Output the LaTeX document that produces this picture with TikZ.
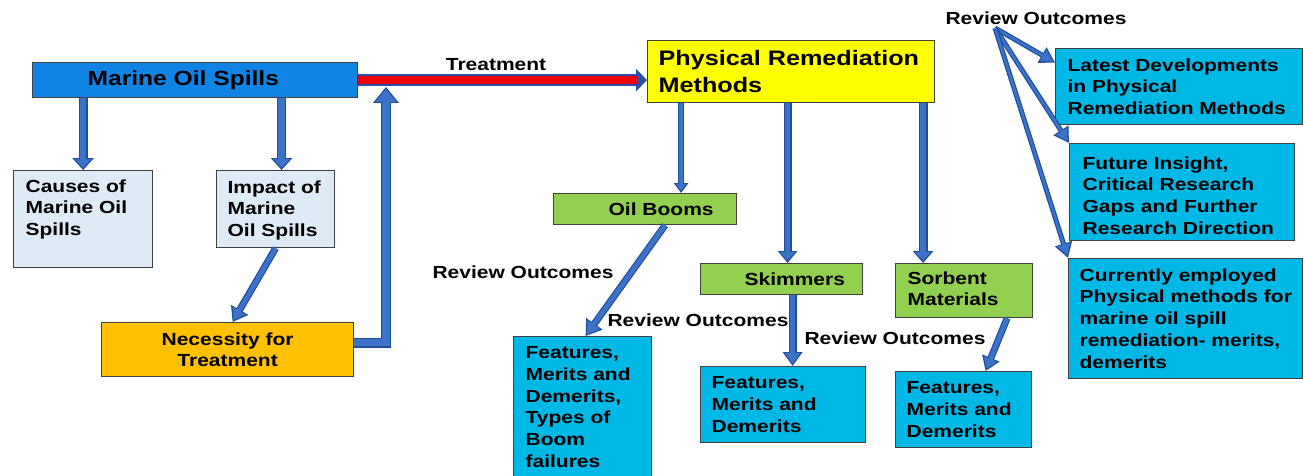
\documentclass[tikz,border=0pt]{standalone}
\usepackage{fontspec}
\setmainfont[FakeStretch=1.2]{Liberation Sans}
\usetikzlibrary{arrows.meta}
\definecolor{mblue}{RGB}{16,132,228}
\definecolor{lblue}{RGB}{222,235,247}
\definecolor{orng}{RGB}{255,192,0}
\definecolor{yel}{RGB}{255,255,0}
\definecolor{grn}{RGB}{146,208,80}
\definecolor{cyn}{RGB}{0,184,230}
\definecolor{dkb}{RGB}{31,78,154}
\definecolor{ltb}{RGB}{60,115,200}
\definecolor{bord}{RGB}{64,64,64}
\definecolor{tred}{RGB}{235,0,0}
\definecolor{tbl}{RGB}{40,80,170}
\newcommand\bxt[5]{\parbox[c][#2pt][t]{#1pt}{\vspace*{#4pt}\raggedright\leftskip=#3pt\relax #5\par}}
\newcommand\bxl[4]{\parbox[c][#2pt][c]{#1pt}{\raggedright\leftskip=#3pt\relax #4\par}}
\newcommand\bxm[3]{\parbox[c][#2pt][c]{#1pt}{\centering #3\par}}
\newcommand\barr[4]{%
  \pgfmathsetlengthmacro\bw{#1-2.4pt}%
  \pgfmathsetlengthmacro\bW{#2-4.6pt}%
  \pgfmathsetlengthmacro\bL{#3-3.4pt}%
  \draw[dkb, line width=#1, -{Triangle[width=#2,length=#3]}] #4;
  \draw[ltb, line width=\bw, shorten >=2.3pt, -{Triangle[width=\bW,length=\bL]}] #4;}
\tikzset{
  bx/.style={draw=bord, line width=1.2pt, inner sep=0pt, anchor=north west, font=\bfseries\fontsize{17.5}{21.7}\selectfont},
  lbl/.style={font=\bfseries\fontsize{17.5}{21}\selectfont, inner sep=0pt},
}
\begin{document}
\begin{tikzpicture}[x=1pt,y=-1pt]
\useasboundingbox[fill=white] (0,0) rectangle (1303,476);
% boxes
\node[bx, fill=mblue, font=\bfseries\fontsize{20.5}{24}\selectfont] (mar) at (32,62) {\bxl{325}{35}{55}{Marine Oil Spills}};
\node[bx, fill=lblue] (cau) at (13,170) {\bxt{139}{97}{12}{9}{Causes of\\Marine Oil\\Spills}};
\node[bx, fill=lblue] (imp) at (216,170) {\bxt{118}{77}{11}{10}{Impact of\\Marine\\Oil Spills}};
\node[bx, fill=orng] (nec) at (101,322) {\bxm{252}{54}{Necessity for\\Treatment}};
\node[bx, fill=yel, font=\bfseries\fontsize{21}{26.5}\selectfont] (phy) at (647,40) {\bxt{287}{62}{11}{10}{Physical Remediation\\Methods}};
\node[bx, fill=grn] (oil) at (553,193) {\bxl{183}{31}{55}{Oil Booms}};
\node[bx, fill=grn] (ski) at (700,263) {\bxl{162}{31}{44}{Skimmers}};
\node[bx, fill=grn] (sor) at (895,263) {\bxt{137}{54}{12}{8}{Sorbent\\Materials}};
\node[bx, fill=cyn] (f1) at (513,336) {\bxt{138}{150}{12}{10}{Features,\\Merits and\\Demerits,\\Types of\\Boom\\failures}};
\node[bx, fill=cyn] (f2) at (700,366) {\bxt{165}{76}{11}{10}{Features,\\Merits and\\Demerits}};
\node[bx, fill=cyn] (f3) at (895,371) {\bxt{136}{76}{11}{10}{Features,\\Merits and\\Demerits}};
\node[bx, fill=cyn] (lat) at (1055,48) {\bxt{247}{76}{12}{10}{Latest Developments\\in Physical\\Remediation Methods}};
\node[bx, fill=cyn] (fut) at (1069,143) {\bxt{225}{97}{13}{13}{Future Insight,\\Critical Research\\Gaps and Further\\Research Direction}};
\node[bx, fill=cyn] (cur) at (1068,258) {\bxt{234}{120}{11}{10}{Currently employed\\Physical methods for\\marine oil spill\\remediation- merits,\\demerits}};
% labels
\node[lbl] (tr) at (496,65) {Treatment};
\node[lbl] (ro1) at (523,272) {Review Outcomes};
\node[lbl] (ro2) at (698,320) {Review Outcomes};
\node[lbl] (ro3) at (895,338) {Review Outcomes};
\node[lbl] (ro4) at (1036,18) {Review Outcomes};
% coordinates
\coordinate (i1) at ([xshift=6pt]imp.north);
\coordinate (i2) at ([xshift=5pt]nec.north);
\coordinate (n0) at ([yshift=7pt]nec.east);
\coordinate (n1) at (386,87);
\coordinate (p1) at (phy.west |- mar.east);
\coordinate (p2) at ([xshift=-10pt]p1);
\coordinate (o1) at ([xshift=36pt]oil.north);
\coordinate (s1) at ([xshift=6pt]ski.north);
\coordinate (s2) at ([xshift=-41pt]sor.north);
\coordinate (k1) at ([xshift=11pt]ski.south);
\coordinate (r0) at (995,28);
% arrows
\barr{9pt}{21pt}{12pt}{(mar.south -| cau.north) -- (cau.north)}
\barr{9pt}{21pt}{12pt}{(mar.south -| i1) -- (i1)}
\barr{7pt}{19pt}{14pt}{(imp.south) -- (i2)}
\barr{10pt}{25pt}{16pt}{(n0) -| (n1)}
\draw[tbl, line width=12pt, -{Triangle[width=22pt,length=11pt]}] (mar.east) -- (p1);
\draw[tred, line width=7.5pt] (mar.east) -- (p2);
\barr{6pt}{14pt}{10pt}{(phy.south -| o1) -- (o1)}
\barr{8pt}{19pt}{12pt}{(phy.south -| s1) -- (s1)}
\barr{9pt}{20pt}{12pt}{(phy.south -| s2) -- (s2)}
\barr{7pt}{19pt}{15pt}{([xshift=20pt]oil.south) -- ([xshift=3pt]f1.north)}
\barr{8pt}{19pt}{14pt}{(k1) -- (k1 |- f2.north)}
\barr{7pt}{18pt}{14pt}{([xshift=43pt]sor.south) -- ([xshift=22pt]f3.north)}
\barr{5pt}{17pt}{15pt}{(r0) -- ([yshift=24pt]lat.west)}
\barr{5pt}{17pt}{15pt}{(r0) -- (fut.north west)}
\barr{5pt}{17pt}{15pt}{(r0) -- (cur.north west)}
\end{tikzpicture}
\end{document}
